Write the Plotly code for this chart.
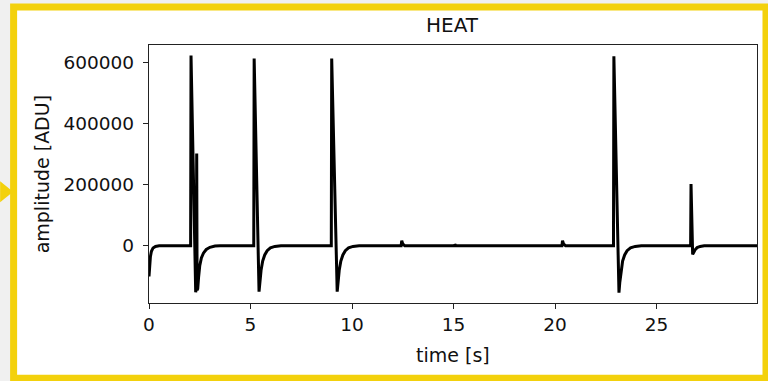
import plotly.graph_objects as go

# ---- data ----
time_s = [
    0.00, 0.03, 0.07, 0.12, 0.20, 0.32, 0.50,
    2.05, 2.07, 2.30, 2.33, 2.35, 2.37, 2.40, 2.44, 2.50, 2.58, 2.68, 2.82, 3.00, 3.25, 3.50,
    5.16, 5.18, 5.42, 5.46, 5.52, 5.60, 5.70, 5.82, 5.98, 6.20, 6.50,
    8.98, 9.00, 9.27, 9.31, 9.37, 9.45, 9.55, 9.67, 9.83, 10.05, 10.35,
    12.42, 12.45, 12.50, 12.60,
    15.05, 15.07, 15.12,
    20.34, 20.37, 20.42, 20.52,
    22.88, 22.90, 23.15, 23.19, 23.25, 23.33, 23.43, 23.55, 23.72, 23.95, 24.25,
    26.68, 26.70, 26.78, 26.83, 26.90, 27.00, 27.15, 27.35,
    29.95,
]
amplitude_adu = [
    -100000, -60000, -35000, -18000, -7000, -2000, 0,
    0, 622000, -152000, -135000, 302000, -145000, -140000, -105000, -65000, -40000, -24000, -12000, -5000, -1000, 0,
    0, 612000, -150000, -120000, -80000, -50000, -30000, -16000, -7000, -2000, 0,
    0, 612000, -150000, -120000, -80000, -50000, -30000, -16000, -7000, -2000, 0,
    0, 17000, 6000, 0,
    0, 4000, 0,
    0, 17000, 6000, 0,
    0, 620000, -153000, -120000, -80000, -50000, -30000, -16000, -7000, -2000, 0,
    0, 202000, -28000, -22000, -13000, -6000, -2000, 0,
    0,
]
x_ticks = [0, 5, 10, 15, 20, 25]
y_ticks = [0, 200000, 400000, 600000]
y_tick_text = ["0", "200000", "400000", "600000"]
title_text = "HEAT"
x_label = "time [s]"
y_label = "amplitude [ADU]"

# ---- layout geometry (pixels) ----
W, H = 768, 381
L, R, T, B = 149, 10.5, 44.5, 78
pw, ph = W - L - R, H - T - B


def px(x):
    return (x - L) / pw


def py(y):
    return (H - B - y) / ph


FONT = "DejaVu Sans"
YELLOW = "#f3d10c"

fig = go.Figure()
fig.add_trace(go.Scatter(
    x=time_s, y=amplitude_adu, mode="lines",
    line=dict(color="black", width=3), showlegend=False, hoverinfo="skip",
))

shapes = [
    # white card with yellow frame
    dict(type="rect", xref="paper", yref="paper", layer="below",
         x0=px(13.5), x1=px(766.5), y0=py(6.5), y1=py(378.5),
         fillcolor="white", line=dict(color=YELLOW, width=7)),
    # small arrow on left edge
    dict(type="path", xref="paper", yref="paper", layer="below",
         path=f"M {px(0)} {py(181)} L {px(13)} {py(191.5)} L {px(0)} {py(202)} Z",
         fillcolor=YELLOW, line=dict(width=0)),
]

annotations = [
    dict(text=title_text, x=px(453), y=py(24), xref="paper", yref="paper",
         showarrow=False, xanchor="center", yanchor="middle",
         font=dict(family=FONT, size=20, color="#111")),
    dict(text=x_label, x=px(453), y=py(355), xref="paper", yref="paper",
         showarrow=False, xanchor="center", yanchor="middle",
         font=dict(family=FONT, size=19, color="#111")),
    dict(text=y_label, x=px(42), y=py(174), xref="paper", yref="paper",
         showarrow=False, xanchor="center", yanchor="middle", textangle=-90,
         font=dict(family=FONT, size=19, color="#111")),
]

axis_common = dict(
    showline=True, linecolor="#222", linewidth=1.3, mirror=True,
    ticks="outside", ticklen=5, tickwidth=1.3, tickcolor="#222",
    showgrid=False, zeroline=False,
    tickfont=dict(family=FONT, size=18.5, color="#111"),
)

fig.update_layout(
    width=W, height=H,
    margin=dict(l=L, r=R, t=T, b=B, pad=0),
    paper_bgcolor="#f0f0f0", plot_bgcolor="white",
    shapes=shapes, annotations=annotations,
    xaxis=dict(range=[0, 29.95], tickvals=x_ticks, ticktext=[str(v) for v in x_ticks], **axis_common),
    yaxis=dict(range=[-187000, 656500], tickvals=y_ticks, ticktext=y_tick_text,
               ticklabelstandoff=5, **axis_common),
)

fig.write_html("out.html")
